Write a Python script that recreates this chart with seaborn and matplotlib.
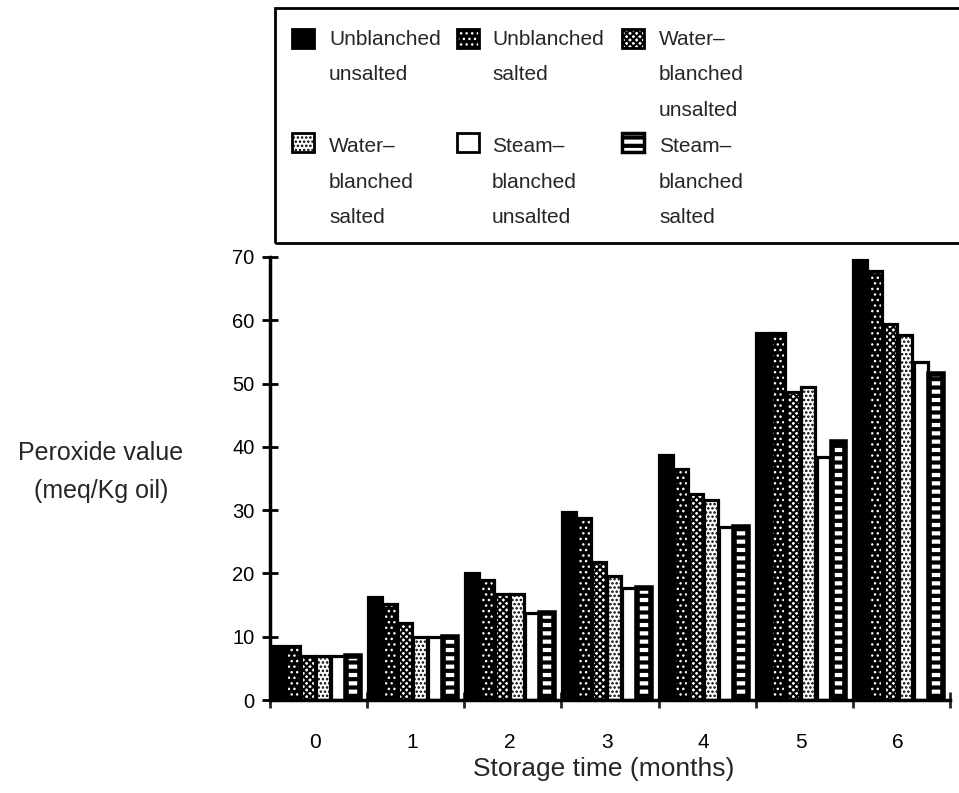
import matplotlib
matplotlib.use("Agg")
import matplotlib.pyplot as plt
import seaborn as sns
import pandas as pd
import numpy as np
from matplotlib.patches import Rectangle
from matplotlib import font_manager

# ---------------- data ----------------
months = ["0", "1", "2", "3", "4", "5", "6"]
series = [
    "Unblanched\nunsalted",
    "Unblanched\nsalted",
    "Water\u2013\nblanched\nunsalted",
    "Water\u2013\nblanched\nsalted",
    "Steam\u2013\nblanched\nunsalted",
    "Steam\u2013\nblanched\nsalted",
]
unblanched_unsalted = [8.5, 16.2, 20.0, 29.7, 38.7, 58.0, 69.5]
unblanched_salted = [8.5, 15.2, 19.0, 28.8, 36.5, 58.0, 67.8]
water_unsalted = [7.0, 12.2, 16.8, 21.8, 32.5, 48.6, 59.4]
water_salted = [7.0, 10.0, 16.8, 19.6, 31.6, 49.5, 57.7]
steam_unsalted = [7.0, 10.0, 13.7, 17.7, 27.4, 38.4, 53.4]
steam_salted = [7.0, 10.0, 13.7, 17.7, 27.4, 40.8, 51.5]
yticks = [0, 10, 20, 30, 40, 50, 60, 70]

values = [unblanched_unsalted, unblanched_salted, water_unsalted,
          water_salted, steam_unsalted, steam_salted]

df = pd.concat(
    [pd.DataFrame({"month": months, "value": v, "series": s})
     for s, v in zip(series, values)],
    ignore_index=True,
)

# ---------------- style ----------------
sns.set_style("white")
plt.rcParams["font.family"] = ["Liberation Sans", "DejaVu Sans"]
names = {f.name for f in font_manager.fontManager.ttflist}
if "Liberation Sans Narrow" in names:
    leg_family, leg_size = ["Liberation Sans Narrow", "Liberation Sans"], 16.5
else:
    leg_family, leg_size = ["Liberation Sans", "DejaVu Sans"], 15

# (face, hatch colour, hatch, hatch linewidth, outline lw)
styles = [
    ("black", "black", None, 1.0, 2.3),
    ("black", "white", "...", 1.0, 2.3),
    ("white", "black", "xxxxx", 1.5, 2.3),
    ("white", "black", "....", 1.2, 2.3),
    ("white", "black", None, 1.0, 2.3),
    ("white", "black", "--", 3.0, 4.0),
]


def style_patch(p, st):
    face, hc, hatch, hlw, olw = st
    p.set_facecolor(face)
    p.set_edgecolor(hc)
    p.set_linewidth(0)
    if hatch:
        p.set_hatch(hatch)
        if hasattr(p, "set_hatch_linewidth"):
            p.set_hatch_linewidth(hlw)
        else:
            p._hatch_linewidth = hlw


W, H = 959, 793
fig = plt.figure(figsize=(W / 100, H / 100), dpi=100)
ax = fig.add_axes([270 / W, 93 / H, 680 / W, 443 / H])

sns.barplot(
    data=df, x="month", y="value", hue="series",
    order=months, hue_order=series,
    palette=["white"] * 6, saturation=1,
    width=0.93, gap=0.08, edgecolor="black", linewidth=2,
    legend=False, ax=ax,
)

for k, cont in enumerate(ax.containers):
    st = styles[k]
    for bar in cont.patches:
        style_patch(bar, st)
        x, y = bar.get_xy()
        ax.add_patch(Rectangle((x, y), bar.get_width(), bar.get_height(),
                               fill=False, edgecolor="black", linewidth=st[4],
                               zorder=bar.get_zorder() + 0.1))

ax.set_xlim(-0.465, 6.535)
ax.set_ylim(0, 70)
ax.set_yticks(yticks)
ax.set_xticks(range(len(months)))
ax.set_xticklabels(months)
ax.set_xticks([i - 0.465 for i in range(len(months) + 1)], minor=True)

for s in ["top", "right"]:
    ax.spines[s].set_visible(False)
for s in ["left", "bottom"]:
    ax.spines[s].set_linewidth(2.5)
    ax.spines[s].set_color("black")

ax.tick_params(axis="y", direction="inout", length=12, width=2,
               labelsize=14.5, pad=5, colors="black", left=True)
ax.tick_params(axis="x", which="major", length=0, labelsize=15, pad=24,
               colors="black")
ax.tick_params(axis="x", which="minor", direction="inout", length=12,
               width=2, bottom=True)

ax.set_xlabel("Storage time (months)", fontsize=19)
ax.xaxis.set_label_coords((604 - 270) / 680, (700 - 769) / 443)
ax.xaxis.label.set_va("center")
ax.set_ylabel("Peroxide value\n(meq/Kg oil)", fontsize=18, rotation=0,
              ha="center", va="center", linespacing=1.75)
ax.yaxis.set_label_coords((101 - 270) / 680, (700 - 472) / 443)

# ---------------- legend box ----------------
fig.add_artist(Rectangle((275 / W, 1 - 243 / H), (990 - 275) / W, 235 / H,
                         transform=fig.transFigure, fill=False,
                         edgecolor="black", linewidth=2))
hx = [292, 457, 622]
tx = [329, 492, 659]
htop = [29, 133]
ttop = [30, 137]
for i, (lab, st) in enumerate(zip(series, styles)):
    r, c = divmod(i, 3)
    hw, hh = 22, 19
    p = Rectangle((hx[c] / W, 1 - (htop[r] + hh) / H), hw / W, hh / H,
                  transform=fig.transFigure)
    style_patch(p, st)
    fig.add_artist(p)
    fig.add_artist(Rectangle((hx[c] / W, 1 - (htop[r] + hh) / H), hw / W,
                             hh / H, transform=fig.transFigure, fill=False,
                             edgecolor="black",
                             linewidth=2 if st[4] < 3 else 2.5))
    fig.text(tx[c] / W, 1 - ttop[r] / H, lab, ha="left", va="top",
             fontsize=leg_size, family=leg_family, linespacing=2.1)

fig.savefig("out.png", dpi=100)
